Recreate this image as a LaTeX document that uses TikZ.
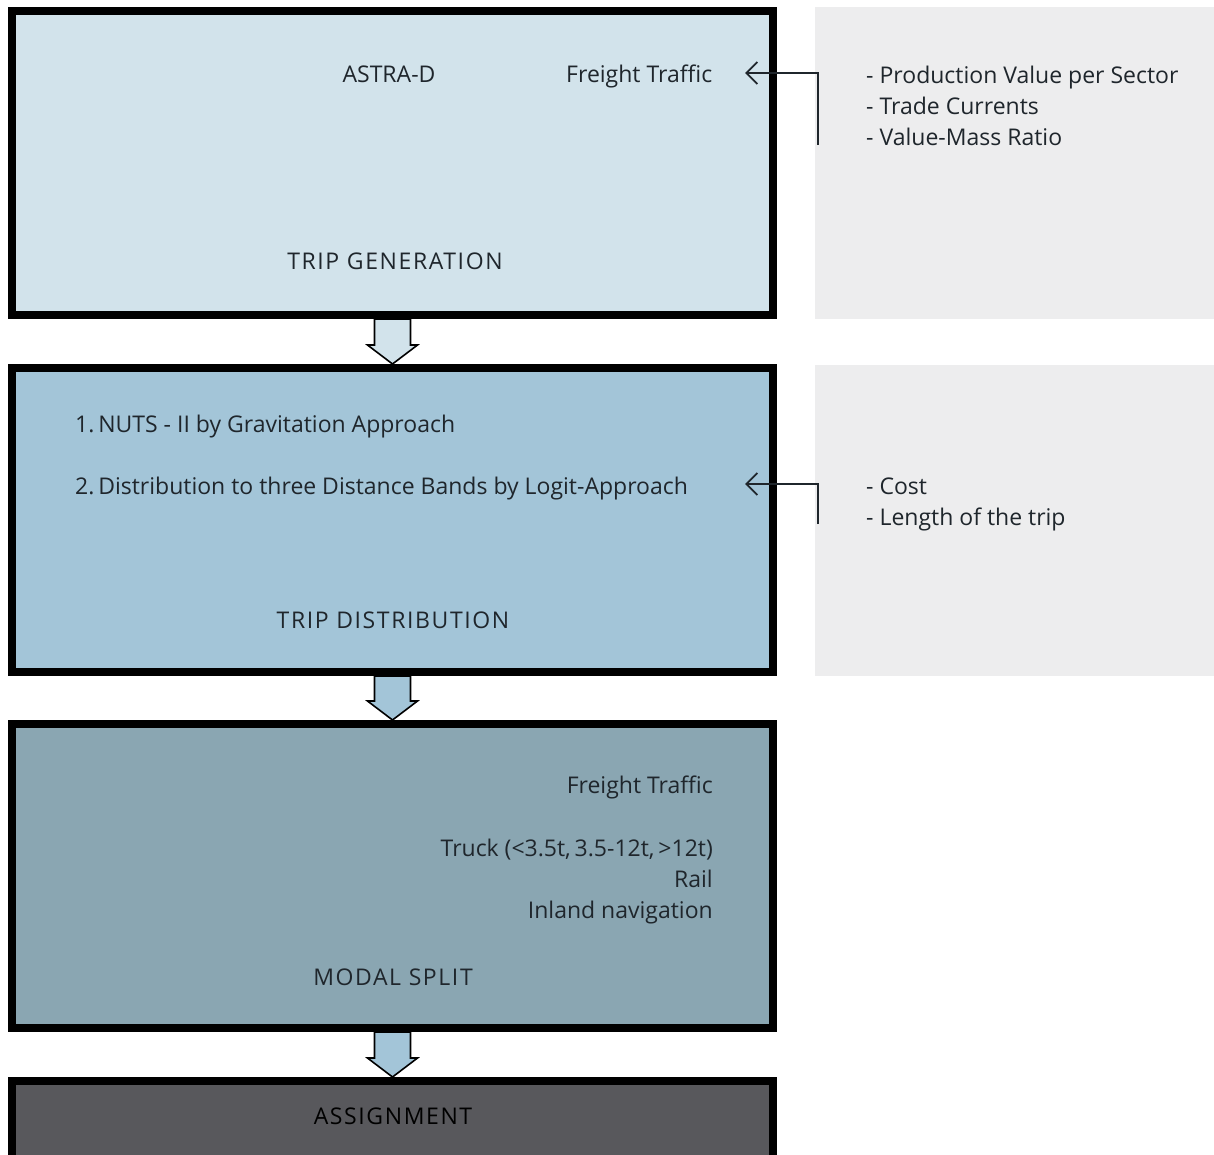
\documentclass[tikz,border=0pt]{standalone}
\usepackage{fontspec}
\setmainfont{Open Sans}
\usetikzlibrary{calc,arrows.meta}
\definecolor{txt}{HTML}{1F262C}
\definecolor{cA}{HTML}{D2E3EB}
\definecolor{cB}{HTML}{A3C5D8}
\definecolor{cC}{HTML}{8AA6B2}
\definecolor{cD}{HTML}{58585C}
\definecolor{panel}{HTML}{EDEDEE}
\tikzset{
  stage/.style={draw=black, line width=8pt, minimum width=761pt, minimum height=304pt, inner sep=0pt},
  lbl/.style={font=\fontsize{23}{27}\selectfont, text=txt, inner sep=0pt},
  caps/.style={font=\fontsize{23}{27}\selectfont\addfontfeature{LetterSpace=7}, text=txt, inner sep=0pt, anchor=base},
  panelbox/.style={fill=panel, draw=none, minimum width=399pt, minimum height=311pt, inner sep=0pt},
  blockarrow/.style={draw=black, line width=1.6pt, line join=miter},
  feedback/.style={draw=txt, line width=1.8pt, -{Straight Barb[length=11pt,width=22pt]}}
}
\begin{document}
\begin{tikzpicture}[x=1pt,y=-1pt]
\useasboundingbox (0,0) rectangle (1214,1155);
\clip (0,0) rectangle (1214,1155);
\fill[white] (0,0) rectangle (1214,1155);
% side panels
\node[panelbox] (p1) at (1014.5,163) {};
\node[panelbox] (p2) at (1014.5,520) {};
% stages
\node[stage, fill=cA] (b1) at (392.5,163) {};
\node[stage, fill=cB] (b2) at (392.5,520) {};
\node[stage, fill=cC] (b3) at (392.5,876) {};
\node[stage, fill=cD, minimum height=84pt] (b4) at (392.5,1123) {};
% block arrows
\foreach \s/\e/\c in {b1/b2/cA, b2/b3/cB, b3/b4/cB}{
  \draw[blockarrow, fill=\c]
    ($(\s.south)+(-18,0)$) -- ($(\s.south)+(18,0)$) -- ($(\e.north)+(18,-19)$) -- ($(\e.north)+(25,-19)$)
    -- (\e.north) -- ($(\e.north)+(-25,-19)$) -- ($(\e.north)+(-18,-19)$) -- cycle;
}
% texts box 1
\node[lbl, anchor=base] (astra) at (389,83) {ASTRA-D};
\node[lbl, anchor=base west] (ft1) at (566,83) {Freight Traffic};
\node[caps] (tg) at (395,270) {TRIP GENERATION};
% panel 1
\node[lbl, anchor=base west] (p1a) at (866,84) {- Production Value per Sector};
\node[lbl, anchor=base west] (p1b) at (866,115) {- Trade Currents};
\node[lbl, anchor=base west] (p1c) at (866,146) {- Value-Mass Ratio};
% box 2
\node[lbl, anchor=base west] (d1) at (75,432) {1.\,NUTS - II by Gravitation Approach};
\node[lbl, anchor=base west] (d2) at (75,494) {2.\,Distribution to three Distance Bands by Logit-Approach};
\node[caps] (td) at (393,628) {TRIP DISTRIBUTION};
% panel 2
\node[lbl, anchor=base west] (p2a) at (866,494) {- Cost};
\node[lbl, anchor=base west] (p2b) at (866,525) {- Length of the trip};
% box 3
\node[lbl, anchor=base east] (ft3) at (713,793) {Freight Traffic};
\node[lbl, anchor=base east] (m1) at (713,856) {Truck (<3.5t,\,3.5-12t,\,>12t)};
\node[lbl, anchor=base east] (m2) at (713,887) {Rail};
\node[lbl, anchor=base east] (m3) at (713,918) {Inland navigation};
\node[caps] (ms) at (393,985) {MODAL SPLIT};
% box 4
\node[caps, text=black] (as) at (393,1124) {ASSIGNMENT};
% feedback connectors
\coordinate (f1s) at (818,145);
\coordinate (f1e) at (745,73);
\coordinate (f2s) at (818,524);
\coordinate (f2e) at (745,484);
\draw[feedback] (f1s) |- (f1e);
\draw[feedback] (f2s) |- (f2e);
\end{tikzpicture}
\end{document}
